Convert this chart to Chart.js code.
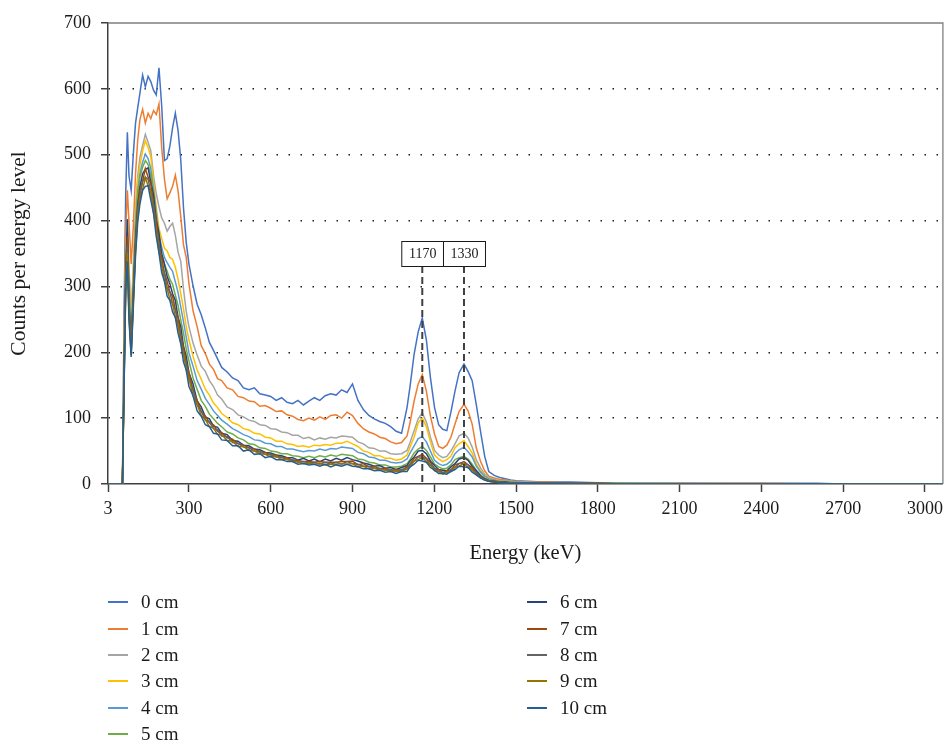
<!DOCTYPE html>
<html lang="en">
<head>
  <meta charset="UTF-8">
  <title>Counts per energy level</title>
  <script src="https://cdn.jsdelivr.net/npm/chart.js"></script>
  <style>
    body { margin: 0; background: #fff; font-family: "Liberation Serif", serif; }
    #wrap { position: relative; width: 949px; height: 742px; }
    #legend {
      position: absolute; left: 108px; top: 589px;
      display: grid; grid-auto-flow: column;
      grid-template-columns: 419px auto;
      grid-template-rows: repeat(6, 26.4px);
      font-size: 19px; color: #1a1a1a;
    }
    .item { display: flex; align-items: center; }
    .swatch { width: 20px; height: 2px; margin-right: 13px; }
  </style>
</head>
<body>
  <div id="wrap">
    <canvas id="chart" width="949" height="742"></canvas>
    <div id="legend"></div>
  </div>

  <script>
    // energy axis (keV) shared by all spectra
    const energy = [
      3, 56, 62, 68, 74, 80, 88, 96, 104, 112,
      120, 130, 140, 150, 160, 170, 180, 190, 200, 210,
      220, 230, 240, 250, 260, 270, 280, 290, 300, 315,
      330, 345, 360, 375, 390, 405, 420, 440, 460, 480,
      500, 520, 540, 560, 580, 600, 620, 640, 660, 680,
      700, 720, 740, 760, 780, 800, 820, 840, 860, 880,
      900, 920, 940, 960, 980, 1000, 1020, 1040, 1060, 1080,
      1100, 1111, 1126, 1141, 1156, 1171, 1186, 1201, 1216, 1231,
      1246, 1261, 1276, 1291, 1309, 1324, 1339, 1354, 1370, 1385,
      1400, 1420, 1440, 1460, 1480, 1500, 1540, 1600, 1700, 1800,
      1900, 2000, 2200, 2400, 2600, 2700, 2800, 3000, 3066
    ];

    const cm0 = [
      0, 0, 262, 441, 534, 468, 446, 502, 548, 571,
      593, 621, 603, 619, 611, 598, 591, 632, 574, 491,
      494, 513, 541, 563, 537, 492, 419, 367, 334, 301,
      273, 257, 237, 215, 203, 190, 177, 170, 161, 157,
      146, 143, 146, 137, 135, 133, 127, 131, 124, 122,
      127, 120, 126, 131, 127, 134, 137, 135, 143, 139,
      152, 127, 113, 104, 99, 95, 92, 87, 80, 77,
      116, 148, 197, 231, 252, 219, 161, 116, 90, 83,
      81, 109, 141, 169, 182, 171, 157, 121, 79, 42,
      19, 13, 10, 8, 6, 5, 4, 3, 3, 2,
      2, 2, 1, 1, 1, 0, 0, 0, 0
    ];
    const cm1 = [
      0, 0, 221, 388, 446, 398, 334, 392, 471, 522,
      553, 569, 548, 563, 555, 567, 561, 577, 511, 463,
      433, 442, 452, 469, 445, 406, 363, 344, 304, 263,
      239, 210, 198, 182, 174, 160, 157, 146, 143, 133,
      131, 126, 125, 118, 119, 115, 110, 111, 105, 103,
      98, 96, 100, 97, 102, 98, 104, 105, 100, 109,
      104, 92, 84, 79, 76, 71, 69, 64, 61, 63,
      73, 93, 126, 152, 166, 141, 103, 76, 57, 54,
      59, 71, 91, 110, 121, 111, 91, 55, 34, 20,
      12, 9, 7, 6, 5, 4, 3, 3, 2, 2,
      1, 1, 1, 1, 0, 0, 0, 0, 0
    ];
    const cm2 = [
      0, 0, 198, 357, 402, 331, 252, 333, 418, 468,
      496, 514, 531, 519, 506, 468, 441, 421, 404, 396,
      384, 391, 396, 378, 352, 338, 296, 262, 239, 214,
      196, 179, 171, 157, 148, 135, 129, 117, 113, 105,
      102, 97, 95, 90, 89, 84, 83, 79, 78, 74,
      74, 69, 71, 67, 70, 68, 71, 70, 73, 72,
      71, 64, 61, 55, 54, 50, 50, 46, 45, 46,
      51, 63, 81, 99, 108, 94, 71, 51, 44, 40,
      42, 50, 61, 73, 77, 70, 56, 37, 24, 15,
      10, 7, 5, 4, 4, 3, 3, 2, 2, 1,
      1, 1, 1, 0, 0, 0, 0, 0, 0
    ];
    const cm3 = [
      0, 0, 189, 352, 391, 318, 241, 322, 409, 461,
      484, 506, 521, 511, 497, 459, 421, 388, 373, 358,
      354, 344, 341, 329, 311, 289, 266, 239, 219, 194,
      173, 159, 144, 135, 123, 116, 107, 101, 93, 90,
      84, 82, 77, 76, 71, 70, 65, 65, 61, 60,
      57, 58, 56, 59, 58, 60, 59, 62, 62, 65,
      61, 57, 50, 48, 43, 43, 39, 39, 36, 38,
      44, 56, 71, 93, 100, 87, 64, 44, 38, 34,
      37, 42, 55, 61, 66, 57, 47, 31, 20, 13,
      9, 6, 5, 4, 3, 3, 2, 2, 1, 1,
      1, 1, 0, 0, 0, 0, 0, 0, 0
    ];
    const cm4 = [
      0, 0, 181, 338, 382, 301, 226, 309, 396, 444,
      471, 489, 501, 494, 479, 447, 413, 379, 359, 344,
      336, 329, 323, 307, 291, 269, 246, 223, 199, 179,
      157, 144, 130, 121, 111, 104, 97, 91, 84, 80,
      75, 72, 67, 66, 62, 61, 57, 57, 53, 53,
      51, 49, 51, 50, 53, 51, 54, 53, 56, 55,
      54, 48, 46, 41, 40, 36, 36, 33, 32, 33,
      38, 47, 58, 69, 72, 64, 50, 36, 31, 28,
      30, 35, 46, 52, 56, 49, 41, 27, 18, 12,
      8, 6, 4, 4, 3, 3, 2, 2, 1, 1,
      1, 1, 0, 0, 0, 0, 0, 0, 0
    ];
    const cm5 = [
      0, 0, 171, 329, 371, 289, 214, 301, 386, 441,
      466, 481, 491, 485, 469, 439, 406, 371, 351, 334,
      323, 311, 303, 287, 271, 249, 229, 205, 187, 161,
      144, 127, 118, 106, 99, 92, 87, 79, 76, 70,
      67, 61, 60, 55, 54, 50, 49, 46, 46, 43,
      42, 40, 42, 40, 43, 41, 44, 42, 45, 44,
      43, 38, 37, 33, 32, 29, 29, 26, 26, 27,
      31, 37, 47, 53, 57, 51, 41, 30, 26, 23,
      24, 29, 37, 40, 42, 38, 30, 21, 14, 9,
      6, 5, 4, 3, 3, 2, 2, 1, 1, 1,
      1, 0, 0, 0, 0, 0, 0, 0, 0
    ];
    const cm6 = [
      0, 0, 168, 322, 402, 276, 208, 292, 372, 424,
      451, 471, 478, 480, 458, 439, 400, 381, 349, 334,
      315, 304, 289, 279, 253, 239, 209, 194, 169, 152,
      126, 117, 102, 99, 88, 86, 77, 75, 66, 65,
      59, 58, 53, 52, 48, 47, 44, 43, 40, 40,
      36, 39, 35, 38, 34, 38, 35, 39, 36, 40,
      37, 35, 32, 30, 27, 28, 24, 25, 22, 25,
      28, 35, 41, 50, 51, 46, 35, 28, 22, 21,
      20, 26, 31, 38, 40, 36, 27, 20, 12, 8,
      5, 4, 3, 3, 2, 2, 2, 1, 1, 1,
      0, 0, 0, 0, 0, 0, 0, 0, 0
    ];
    const cm7 = [
      0, 0, 160, 311, 376, 270, 203, 287, 366, 417,
      446, 460, 479, 466, 456, 425, 401, 363, 344, 320,
      308, 291, 285, 265, 253, 225, 208, 183, 169, 142,
      127, 110, 103, 93, 90, 80, 78, 70, 68, 61,
      59, 55, 53, 49, 48, 44, 44, 40, 40, 36,
      36, 34, 34, 33, 34, 33, 33, 33, 34, 34,
      35, 29, 31, 26, 27, 23, 24, 21, 22, 21,
      26, 30, 39, 42, 45, 39, 33, 23, 22, 17,
      20, 21, 29, 31, 34, 29, 25, 16, 11, 7,
      5, 4, 3, 2, 2, 2, 1, 1, 1, 1,
      0, 0, 0, 0, 0, 0, 0, 0, 0
    ];
    const cm8 = [
      0, 0, 156, 305, 362, 262, 199, 281, 361, 412,
      436, 459, 466, 463, 444, 424, 388, 363, 333, 320,
      297, 292, 273, 265, 241, 225, 196, 184, 159, 144,
      120, 111, 97, 94, 84, 82, 73, 72, 63, 62,
      56, 55, 50, 49, 45, 45, 41, 41, 37, 37,
      33, 34, 32, 33, 30, 33, 30, 33, 30, 34,
      31, 30, 27, 27, 24, 24, 21, 22, 19, 22,
      23, 30, 35, 41, 41, 38, 29, 24, 19, 18,
      17, 22, 25, 31, 31, 29, 21, 17, 10, 7,
      4, 3, 3, 2, 2, 2, 1, 1, 1, 0,
      0, 0, 0, 0, 0, 0, 0, 0, 0
    ];
    const cm9 = [
      0, 0, 152, 298, 351, 255, 196, 276, 354, 405,
      434, 447, 465, 453, 444, 412, 389, 352, 334, 309,
      297, 280, 274, 253, 242, 214, 198, 173, 161, 134,
      121, 104, 98, 87, 85, 75, 75, 66, 65, 57,
      57, 51, 50, 46, 45, 41, 42, 37, 38, 34,
      34, 31, 32, 30, 31, 29, 30, 30, 31, 30,
      31, 26, 27, 23, 24, 21, 22, 19, 20, 19,
      23, 26, 35, 37, 40, 34, 29, 20, 19, 15,
      18, 19, 26, 27, 31, 25, 22, 14, 10, 6,
      4, 3, 2, 2, 2, 1, 1, 1, 0, 0,
      0, 0, 0, 0, 0, 0, 0, 0, 0
    ];
    const cm10 = [
      0, 0, 149, 293, 338, 249, 193, 270, 347, 398,
      425, 446, 452, 453, 431, 411, 376, 351, 321, 308,
      285, 279, 261, 253, 229, 213, 185, 173, 148, 134,
      111, 103, 90, 87, 77, 76, 67, 66, 58, 58,
      50, 52, 45, 46, 40, 42, 37, 37, 34, 34,
      30, 31, 29, 30, 27, 30, 26, 29, 27, 30,
      27, 26, 23, 23, 20, 21, 18, 19, 16, 19,
      19, 26, 30, 36, 35, 33, 25, 21, 16, 16,
      15, 19, 22, 27, 26, 25, 18, 14, 9, 6,
      4, 3, 2, 2, 1, 1, 1, 1, 0, 0,
      0, 0, 0, 0, 0, 0, 0, 0, 0
    ];

    const seriesLabels = ['0 cm', '1 cm', '2 cm', '3 cm', '4 cm', '5 cm', '6 cm', '7 cm', '8 cm', '9 cm', '10 cm'];
    const seriesValues = [cm0, cm1, cm2, cm3, cm4, cm5, cm6, cm7, cm8, cm9, cm10];
    const seriesColors = ['#4472C4', '#ED7D31', '#A5A5A5', '#FFC000', '#5B9BD5', '#70AD47',
                          '#264478', '#9E480E', '#636363', '#997300', '#255E91'];

    const xTicks = [3, 300, 600, 900, 1200, 1500, 1800, 2100, 2400, 2700, 3000];
    // photopeak markers: where the dashed line sits on the axis, and its label
    const peakEnergy = [1156, 1309];
    const peakLabels = ['1170', '1330'];

    const axisFont = { family: 'Liberation Serif', size: 18 };

    // dashed photopeak lines with boxed labels
    const peakMarkers = {
      id: 'peakMarkers',
      afterDatasetsDraw(chart) {
        const { ctx, chartArea, scales: { x, y } } = chart;
        const boxMid = y.getPixelForValue(350);
        const boxH = 25;
        ctx.save();
        ctx.font = '14px "Liberation Serif"';
        peakEnergy.forEach((e, i) => {
          const px = x.getPixelForValue(e);
          ctx.strokeStyle = '#404040';
          ctx.lineWidth = 2;
          ctx.setLineDash([7, 4]);
          ctx.beginPath();
          ctx.moveTo(px, boxMid + boxH / 2);
          ctx.lineTo(px, chartArea.bottom);
          ctx.stroke();

          ctx.setLineDash([]);
          const w = 42;
          ctx.fillStyle = '#fff';
          ctx.fillRect(px - w / 2, boxMid - boxH / 2, w, boxH);
          ctx.strokeStyle = '#1a1a1a';
          ctx.lineWidth = 1;
          ctx.strokeRect(px - w / 2 + 0.5, boxMid - boxH / 2 + 0.5, w, boxH);
          ctx.fillStyle = '#1a1a1a';
          ctx.textAlign = 'center';
          ctx.textBaseline = 'middle';
          ctx.fillText(peakLabels[i], px + 0.5, boxMid + 1);
        });
        ctx.restore();
      }
    };

    // grey frame on top and right of plot area
    const frame = {
      id: 'frame',
      afterDraw(chart) {
        const { ctx, chartArea: a } = chart;
        ctx.save();
        ctx.strokeStyle = '#7f7f7f';
        ctx.lineWidth = 1.3;
        ctx.beginPath();
        ctx.moveTo(a.left, a.top);
        ctx.lineTo(a.right, a.top);
        ctx.lineTo(a.right, a.bottom);
        ctx.stroke();
        ctx.restore();
      }
    };

    const datasets = seriesValues.map((vals, i) => ({
      label: seriesLabels[i],
      data: energy.map((e, j) => ({ x: e, y: vals[j] })),
      borderColor: seriesColors[i],
      borderWidth: 1.5,
      pointRadius: 0,
      tension: 0,
      order: seriesValues.length - i
    }));

    new Chart(document.getElementById('chart'), {
      type: 'line',
      data: { datasets },
      options: {
        responsive: false,
        animation: false,
        devicePixelRatio: 1,
        layout: { padding: { top: 23, right: 4, left: 0, bottom: 176 } },
        plugins: { legend: { display: false }, tooltip: { enabled: false } },
        scales: {
          x: {
            type: 'linear', min: 3, max: 3066,
            afterBuildTicks: s => { s.ticks = xTicks.map(v => ({ value: v })); },
            afterFit: s => { s.height = 82; },
            ticks: { font: axisFont, color: '#1a1a1a', maxRotation: 0, autoSkip: false, padding: 6,
                     callback: v => String(v) },
            grid: { drawOnChartArea: false, tickLength: 8, tickColor: '#404040', tickWidth: 1.5 },
            border: { color: '#404040', width: 1.5 },
            title: { display: true, text: 'Energy (keV)', font: { family: 'Liberation Serif', size: 20.5 },
                     color: '#1a1a1a', padding: { top: 0, bottom: 0 } }
          },
          y: {
            min: 0, max: 700,
            afterFit: s => { s.width = 108; },
            ticks: { stepSize: 100, font: axisFont, color: '#1a1a1a', padding: 10 },
            grid: {
              color: c => (c.tick && (c.tick.value === 0 || c.tick.value === 700)) ? 'rgba(0,0,0,0)' : '#1a1a1a',
              lineWidth: 1.5, tickLength: 7, tickColor: '#404040', tickWidth: 1.5, tickBorderDash: []
            },
            border: { color: '#404040', width: 1.5, dash: [1.5, 10.5] },
            title: { display: true, text: 'Counts per energy level', font: { family: 'Liberation Serif', size: 21.5 },
                     color: '#1a1a1a', padding: { top: 6, bottom: 0 } }
          }
        }
      },
      plugins: [peakMarkers, frame]
    });

    // legend: two columns, filled top to bottom
    const legend = document.getElementById('legend');
    seriesLabels.forEach((lab, i) => {
      const item = document.createElement('div');
      item.className = 'item';
      const sw = document.createElement('span');
      sw.className = 'swatch';
      sw.style.background = seriesColors[i];
      const tx = document.createElement('span');
      tx.textContent = lab;
      item.appendChild(sw);
      item.appendChild(tx);
      legend.appendChild(item);
    });
  </script>
</body>
</html>
